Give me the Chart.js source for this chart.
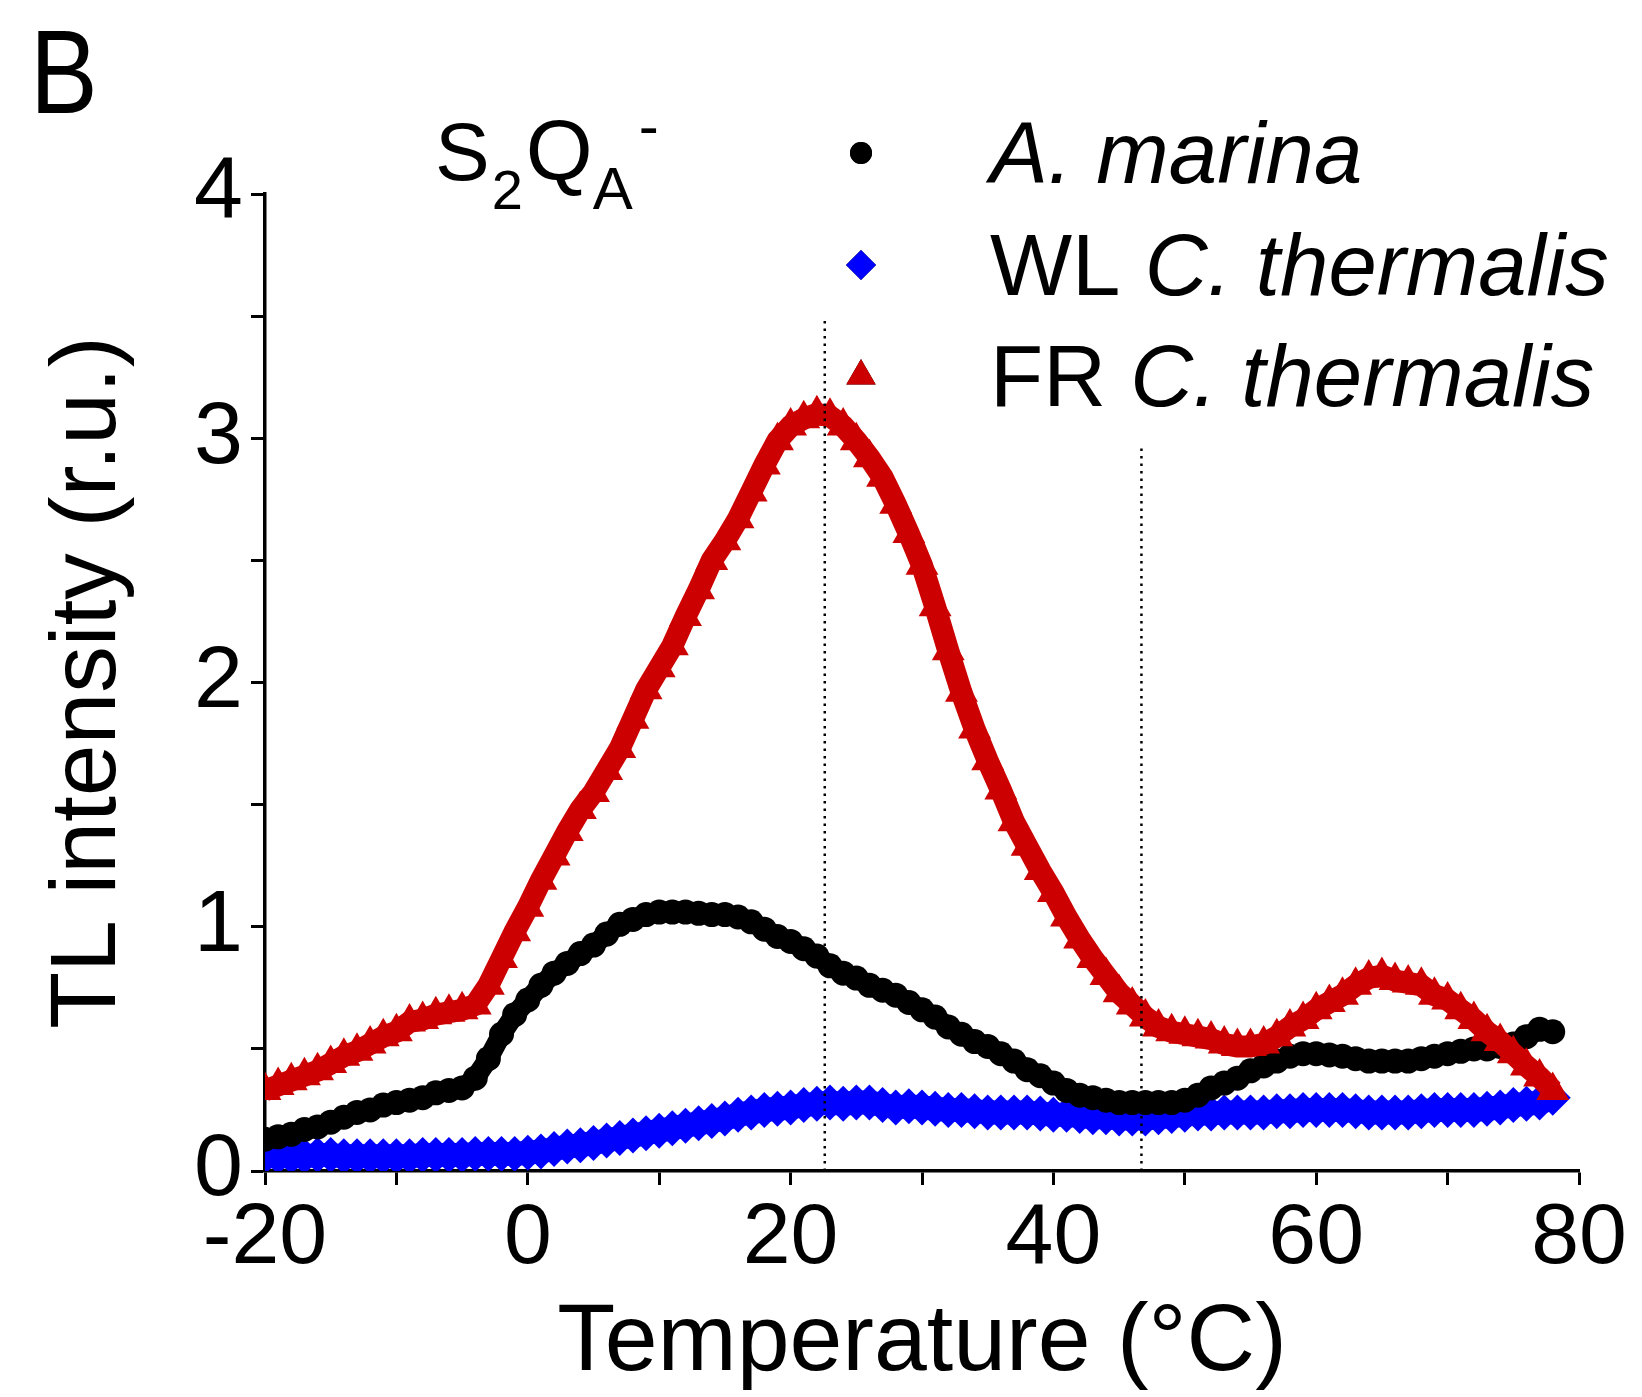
<!DOCTYPE html>
<html>
<head>
<meta charset="utf-8">
<script src="https://cdn.jsdelivr.net/npm/chart.js@4.4.1/dist/chart.umd.min.js"></script>
<style>
  html, body { margin: 0; padding: 0; background: #fff; }
  #wrap { width: 1642px; height: 1397px; position: relative; }
</style>
</head>
<body>
<div id="wrap"><canvas id="chart"></canvas></div>
<script>
// temperature (°C), one reading per degree
var temps = [-20,-19,-18,-17,-16,-15,-14,-13,-12,-11,-10,-9,-8,-7,-6,-5,-4,-3,-2,-1,
    0,1,2,3,4,5,6,7,8,9,10,11,12,13,14,15,16,17,18,19,
    20,21,22,23,24,25,26,27,28,29,30,31,32,33,34,35,36,37,38,39,
    40,41,42,43,44,45,46,47,48,49,50,51,52,53,54,55,56,57,58,59,
    60,61,62,63,64,65,66,67,68,69,70,71,72,73,74,75,76,77,78];

// A. marina
var marina = [0.13,0.14,0.15,0.17,0.18,0.20,0.22,0.24,0.25,0.27,0.28,0.29,0.30,0.32,0.33,0.34,0.38,0.46,0.56,0.64,
    0.70,0.76,0.81,0.85,0.89,0.925,0.97,1.01,1.03,1.05,1.06,1.06,1.06,1.055,1.05,1.05,1.04,1.02,0.99,0.96,
    0.94,0.91,0.88,0.84,0.81,0.79,0.76,0.74,0.72,0.69,0.66,0.63,0.59,0.56,0.53,0.51,0.48,0.45,0.415,0.39,
    0.36,0.33,0.31,0.30,0.29,0.28,0.28,0.28,0.28,0.28,0.29,0.31,0.34,0.36,0.38,0.41,0.43,0.45,0.47,0.48,
    0.48,0.475,0.47,0.46,0.45,0.45,0.45,0.45,0.46,0.47,0.48,0.49,0.50,0.50,0.51,0.52,0.55,0.58,0.57];

// WL C. thermalis
var wlTherm = [0.06,0.06,0.06,0.06,0.065,0.065,0.06,0.06,0.06,0.06,0.06,0.06,0.065,0.065,0.065,0.065,0.07,0.07,0.07,0.07,
    0.075,0.08,0.09,0.10,0.105,0.115,0.125,0.135,0.145,0.155,0.165,0.175,0.185,0.195,0.205,0.215,0.23,0.24,0.25,0.255,
    0.26,0.27,0.275,0.28,0.275,0.28,0.28,0.27,0.26,0.265,0.26,0.255,0.25,0.25,0.245,0.24,0.24,0.24,0.24,0.235,
    0.23,0.23,0.225,0.22,0.22,0.215,0.215,0.215,0.22,0.225,0.23,0.235,0.235,0.24,0.24,0.24,0.24,0.245,0.245,0.25,
    0.25,0.25,0.25,0.245,0.24,0.24,0.24,0.24,0.245,0.25,0.25,0.25,0.25,0.255,0.26,0.27,0.275,0.28,0.30];

// FR C. thermalis
var frTherm = [0.33,0.35,0.37,0.39,0.41,0.44,0.47,0.49,0.52,0.55,0.57,0.61,0.62,0.64,0.65,0.66,0.68,0.76,0.87,0.98,
    1.08,1.19,1.29,1.39,1.48,1.55,1.64,1.73,1.85,1.97,2.06,2.15,2.27,2.38,2.50,2.58,2.67,2.78,2.89,2.99,
    3.05,3.08,3.10,3.09,3.05,2.99,2.92,2.84,2.73,2.61,2.48,2.31,2.13,1.96,1.81,1.68,1.56,1.43,1.33,1.23,
    1.14,1.04,0.95,0.87,0.80,0.73,0.68,0.63,0.59,0.57,0.56,0.55,0.54,0.52,0.51,0.51,0.52,0.55,0.59,0.62,
    0.66,0.69,0.72,0.76,0.79,0.80,0.78,0.77,0.76,0.72,0.70,0.66,0.62,0.57,0.53,0.48,0.43,0.385,0.33];

// dotted guide lines
var guideT = [22.6, 46.7];
var guideTop = [3.5, 2.96];

var xTicks = [-20, 0, 20, 40, 60, 80];
var yTicks = [0, 1, 2, 3, 4];

var legendNames = [
    [['', 'normal'], ['A. marina', 'italic']],
    [['WL ', 'normal'], ['C. thermalis', 'italic']],
    [['FR ', 'normal'], ['C. thermalis', 'italic']]
];

var FONT = '"Liberation Sans", Arial, sans-serif';
var RED = 'rgb(204,0,0)';
var BLUE = 'rgb(0,0,255)';
var BLACK = 'rgb(0,0,0)';

function pts(xs, ys) {
    return xs.map(function (x, i) { return {x: x, y: ys[i]}; });
}

var guideSets = guideT.map(function (t, i) {
    return {
        data: [{x: t, y: 0}, {x: t, y: guideTop[i]}],
        borderColor: BLACK,
        borderWidth: 2.5,
        borderDash: [2.5, 5],
        pointRadius: 0,
        showLine: true,
        order: 0
    };
});

var markers = [
    {style: 'circle', radius: 11, color: BLACK},
    {style: 'rectRot', radius: 15, color: BLUE},
    {style: 'triangle', radius: 17, color: RED}
];

var legendPlugin = {
    id: 'customText',
    afterDraw: function (chart) {
        var ctx = chart.ctx;
        ctx.save();
        ctx.fillStyle = '#000';
        ctx.textBaseline = 'alphabetic';
        ctx.textAlign = 'left';
        // panel letter
        ctx.save();
        ctx.translate(30, 113);
        ctx.scale(0.86, 1);
        ctx.font = '118px ' + FONT;
        ctx.fillText('B', 0, 0);
        ctx.restore();
        // S2QA-
        ctx.font = '82px ' + FONT;
        ctx.fillText('S', 435, 180);
        var x = 435 + ctx.measureText('S').width;
        ctx.font = '56px ' + FONT;
        ctx.fillText('2', x + 2, 209);
        x += ctx.measureText('2').width + 5;
        ctx.font = '86px ' + FONT;
        ctx.fillText('Q', x, 180);
        x += ctx.measureText('Q').width;
        ctx.font = '60px ' + FONT;
        ctx.fillText('A', x, 209);
        x += ctx.measureText('A').width + 6;
        ctx.fillText('-', x, 146);

        // legend
        var baselines = [183, 295, 406];
        for (var i = 0; i < legendNames.length; i++) {
            var m = markers[i];
            Chart.helpers.drawPoint(ctx, {
                pointStyle: m.style, radius: m.radius, borderWidth: 0, rotation: 0
            }, 861, baselines[i] - 30);
            ctx.fillStyle = m.color;
            ctx.fill();
            ctx.fillStyle = '#000';
            var tx = 990;
            legendNames[i].forEach(function (part) {
                ctx.font = (part[1] === 'italic' ? 'italic ' : '') + '87px ' + FONT;
                ctx.fillText(part[0], tx, baselines[i]);
                tx += ctx.measureText(part[0]).width;
            });
        }
        ctx.restore();
    }
};

var ctx = document.getElementById('chart').getContext('2d');
window.tl = new Chart(ctx, {
    type: 'scatter',
    data: {
        datasets: guideSets.concat([
            {
                label: 'FR C. thermalis',
                data: pts(temps, frTherm),
                showLine: true,
                borderColor: RED,
                borderWidth: 22,
                pointStyle: 'triangle',
                pointRadius: 19,
                pointBorderWidth: 0,
                pointBackgroundColor: RED,
                order: 1
            },
            {
                label: 'A. marina',
                data: pts(temps, marina),
                showLine: true,
                borderColor: BLACK,
                borderWidth: 20,
                pointStyle: 'circle',
                pointRadius: 12.5,
                pointBorderWidth: 0,
                pointBackgroundColor: BLACK,
                order: 2
            },
            {
                label: 'WL C. thermalis',
                data: pts(temps, wlTherm),
                showLine: true,
                borderColor: BLUE,
                borderWidth: 24,
                pointStyle: 'rectRot',
                pointRadius: 18,
                pointBorderWidth: 0,
                pointBackgroundColor: BLUE,
                order: 3
            }
        ])
    },
    options: {
        responsive: true,
        maintainAspectRatio: false,
        animation: false,
        events: [],
        layout: { padding: { left: 0, right: 63, top: 194, bottom: 0 } },
        plugins: {
            legend: { display: false },
            tooltip: { enabled: false }
        },
        elements: { line: { tension: 0 } },
        scales: {
            x: {
                type: 'linear',
                min: -20,
                max: 80,
                border: { display: true, color: BLACK, width: 3.5 },
                grid: { drawOnChartArea: false, drawTicks: true, tickLength: 14, tickWidth: 3, color: BLACK },
                ticks: {
                    stepSize: 10,
                    autoSkip: false,
                    maxRotation: 0,
                    padding: 3,
                    color: BLACK,
                    font: { family: FONT, size: 86 },
                    callback: function (v) { return xTicks.indexOf(v) >= 0 ? String(v) : ''; }
                },
                title: {
                    display: true,
                    text: 'Temperature (°C)',
                    color: BLACK,
                    font: { family: FONT, size: 95, lineHeight: 1 },
                    padding: { top: 0, bottom: 6 }
                },
                afterFit: function (s) { s.height = 226; s.paddingLeft = 0; s.paddingRight = 0; }
            },
            y: {
                type: 'linear',
                min: 0,
                max: 4,
                border: { display: true, color: BLACK, width: 3.5 },
                grid: { drawOnChartArea: false, drawTicks: true, tickLength: 14, tickWidth: 3, color: BLACK },
                ticks: {
                    stepSize: 0.5,
                    autoSkip: false,
                    padding: 8,
                    color: BLACK,
                    font: { family: FONT, size: 88 },
                    callback: function (v) { return yTicks.indexOf(v) >= 0 ? String(v) : ''; }
                },
                title: {
                    display: true,
                    text: 'TL intensity (r.u.)',
                    color: BLACK,
                    font: { family: FONT, size: 93, lineHeight: 1 },
                    padding: { top: 43, bottom: 0 }
                },
                afterFit: function (s) { s.width = 265; s.paddingTop = 0; s.paddingBottom = 0; }
            }
        }
    },
    plugins: [legendPlugin]
});
</script>
</body>
</html>
